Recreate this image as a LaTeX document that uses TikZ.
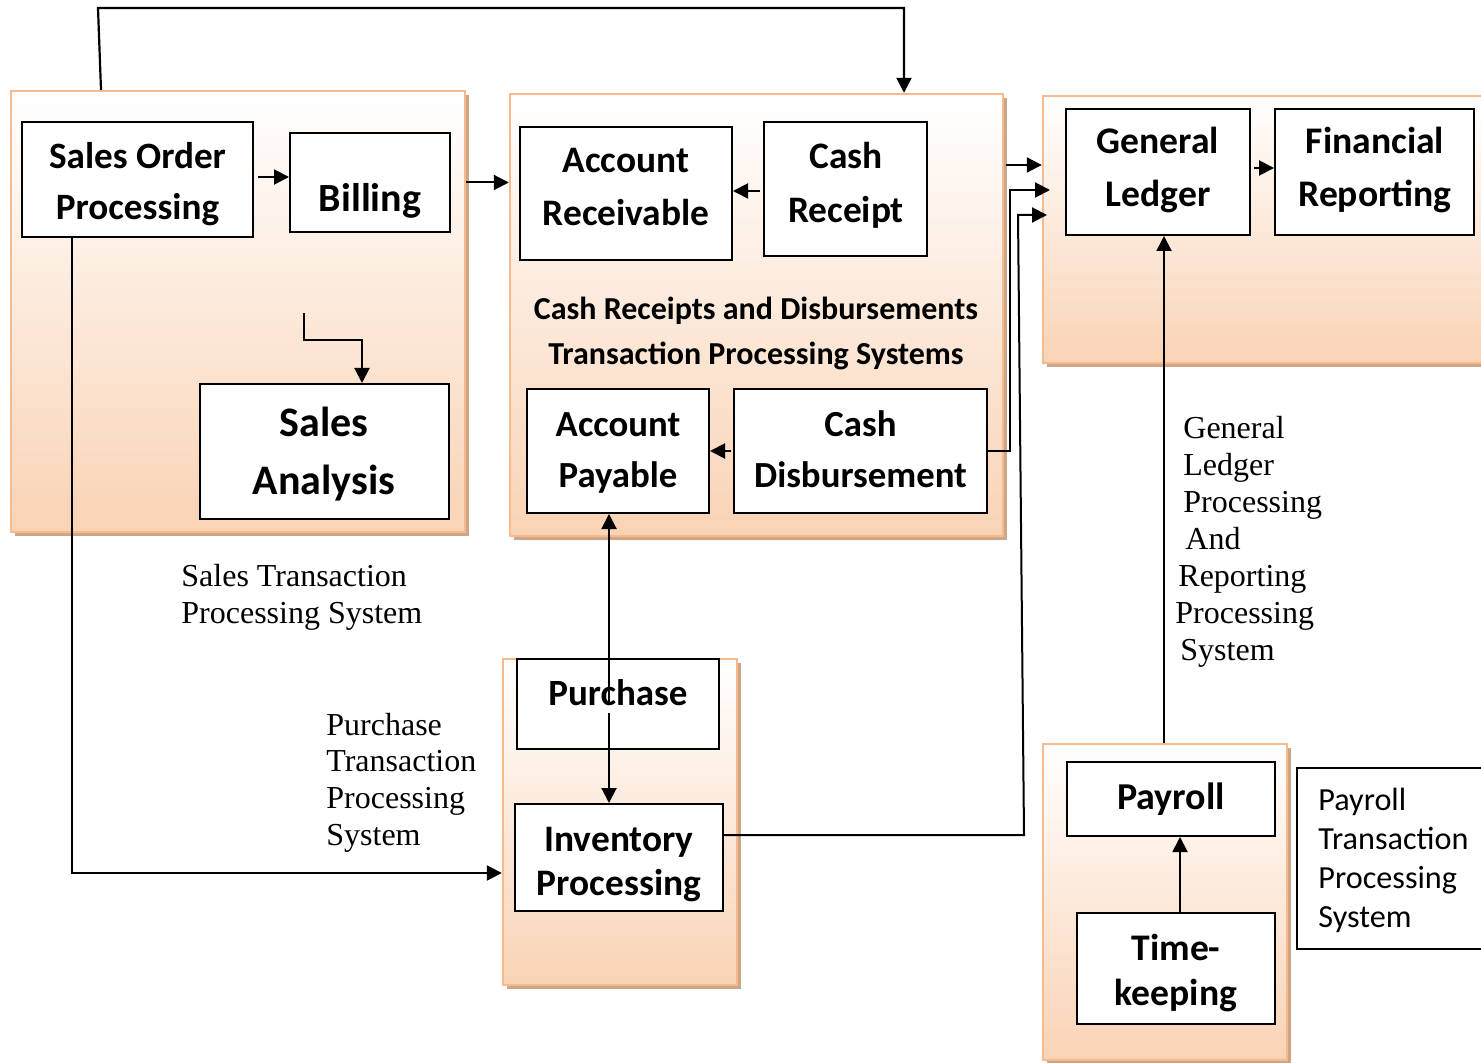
\documentclass[tikz,border=0pt]{standalone}
\usepackage{fontspec}
\setmainfont{Liberation Serif}
\newfontfamily\carl{Carlito}
\usetikzlibrary{arrows.meta,shadows,calc}
\definecolor{peach}{RGB}{249,211,181}
\definecolor{pborder}{RGB}{246,186,140}
\definecolor{pshadow}{RGB}{205,165,135}
\newcommand{\rbox}[6]{%
  \pgfmathsetmacro{\rbw}{(#5-#3)/2}%
  \pgfmathsetmacro{\rbh}{(#6-#4)/2}%
  \node[#1, minimum width=\rbw pt, minimum height=\rbh pt] (#2) at ({(#3+#5)/2},{(#4+#6)/2}) {};%
}
\newcommand{\mycent}[1]{\begin{tabular}[t]{@{}c@{}}#1\end{tabular}}
\newcommand{\myleft}[1]{\begin{tabular}[t]{@{}l@{}}#1\end{tabular}}
\begin{document}
\begin{tikzpicture}[x=0.5pt,y=-0.5pt,
  panel/.style={rectangle, inner sep=0, draw=pborder, line width=1.2pt, top color=white, bottom color=peach,
    drop shadow={shadow xshift=2pt, shadow yshift=-2pt, fill=pshadow, opacity=1}},
  box/.style={rectangle, inner sep=0, draw=black, line width=1pt, fill=white},
  conn/.style={draw=black, line width=1pt},
  arr/.style={conn, -{Triangle[length=7.5pt,width=7.5pt]}},
  btx/.style={inner sep=0, anchor=base},
  bfont/.style={font=\carl\bfseries\fontsize#1\selectfont},
  tlab/.style={inner sep=0, anchor=base west, font=\fontsize{16}{18.5}\selectfont}
]
\useasboundingbox (0,0) rectangle (1481,1063);

% panels
\rbox{panel}{psales}{11}{91}{465}{532}
\rbox{panel}{pcash}{510}{94}{1003}{536}
\rbox{panel}{pgl}{1043}{96}{1500}{363}
\rbox{panel}{ppur}{503}{659}{737}{985}
\rbox{panel}{ppay}{1043}{744}{1287}{1060}

% boxes
\rbox{box}{sop}{22}{122}{253}{237}
\rbox{box}{bill}{290}{133}{450}{232}
\rbox{box}{sa}{200}{384}{449}{519}
\rbox{box}{ar}{520}{127}{732}{260}
\rbox{box}{cr}{764}{122}{927}{256}
\rbox{box}{ap}{527}{389}{709}{513}
\rbox{box}{cd}{734}{389}{987}{513}
\rbox{box}{gl}{1066}{109}{1250}{235}
\rbox{box}{fr}{1275}{109}{1474}{235}
\rbox{box}{pur}{517}{659}{719}{749}
\rbox{box}{inv}{515}{804}{723}{911}
\rbox{box}{pay}{1067}{762}{1275}{836}
\rbox{box}{tk}{1077}{913}{1275}{1024}
\rbox{box}{leg}{1297}{768}{1500}{949}

% connectors
\coordinate (ta) at (98,8);
\coordinate (tb) at (904,8);
\coordinate (xa) at (101,0);
\draw[arr, line width=1.1pt] (psales.north -| xa) -- (ta) -- (tb) -- (tb |- pcash.north);

\coordinate (g0) at ([yshift=1.25pt]sop.east);
\draw[arr, shorten <=2pt] (g0) -- (g0 -| bill.west);
\draw[arr] (bill.east -| psales.east) -- (bill.east -| pcash.west);

\coordinate (s1) at (304,313);
\coordinate (s2) at (362,340);
\draw[arr] (s1) |- (s2) -- (s2 |- sa.north);

\coordinate (s3) at (72,873);
\draw[arr] (sop.south -| s3) -- (s3) -- (s3 -| ppur.west);

\coordinate (g2) at ([yshift=-1pt]cr.west);
\draw[arr, shorten <=1.5pt] (g2) -- (g2 -| ar.east);
\draw[arr, shorten <=1pt] (cd.west) -- (cd.west -| ap.east);

\coordinate (p1) at (609,705);
\coordinate (p2) at (609,713);
\draw[arr] (p1) -- (p1 |- ap.south);
\draw[arr] (p2) -- (p2 |- inv.north);

\coordinate (s4) at (1006,165);
\draw[arr] (s4) -- (s4 -| pgl.west);
\coordinate (s5) at (1010,190);
\coordinate (e5) at (1050,190);
\draw[arr] (cd.east) -| (s5) -- (e5);
\coordinate (s6) at (1024,835);
\coordinate (s7) at (1018,215);
\coordinate (e7) at (1047,215);
\draw[arr] (s6 -| inv.east) -- (s6) -- (s7) -- (e7);

\coordinate (xd) at (1164,0);
\draw[arr] (ppay.north -| xd) -- (gl.south -| xd);
\coordinate (xe) at (1180,0);
\draw[arr] (tk.north -| xe) -- (pay.south -| xe);
\coordinate (g1) at ([yshift=2pt]gl.east);
\draw[arr, shorten <=1.5pt] (g1) -- (g1 -| fr.west);

% box texts
\node[btx, bfont={{18.6}{25.5}}] (t-sop) at (137.5,169) {\mycent{Sales Order\\Processing}};
\node[btx, bfont={{20}{25}}] (t-bill) at (370,212) {Billing};
\node[btx, bfont={{21}{29}}] (t-sa) at (324,437) {\mycent{Sales\\Analysis}};
\node[btx, bfont={{18.7}{26.5}}] (t-ar) at (626,173) {\mycent{Account\\Receivable}};
\node[btx, bfont={{18.7}{27}}] (t-cr) at (846,169) {\mycent{Cash\\Receipt}};
\node[btx, bfont={{16}{22.5}}] (t-title) at (756,320) {\mycent{Cash Receipts and Disbursements\\Transaction Processing Systems}};
\node[btx, bfont={{18.4}{25.5}}] (t-ap) at (618,437) {\mycent{Account\\Payable}};
\node[btx, bfont={{18.4}{25.5}}] (t-cd) at (860.5,437) {\mycent{Cash\\Disbursement}};
\node[btx, bfont={{18.8}{26.5}}] (t-gl) at (1158,154) {\mycent{General\\Ledger}};
\node[btx, bfont={{18.8}{26.5}}] (t-fr) at (1375,154) {\mycent{Financial\\Reporting}};
\node[btx, bfont={{18.5}{25}}] (t-pur) at (618,705) {Purchase};
\node[btx, bfont={{18.7}{22}}] (t-inv) at (619,851) {\mycent{Inventory\\Processing}};
\node[btx, bfont={{19}{25}}] (t-pay) at (1171,809) {Payroll};
\node[btx, bfont={{18.8}{22.5}}] (t-tk) at (1176,960) {\mycent{Time-\\keeping}};
\node[inner sep=0, anchor=base west, font=\carl\fontsize{16.1}{19.5}\selectfont] (t-leg) at (1318,810)
  {\myleft{Payroll\\Transaction\\Processing\\System}};

% labels
\node[tlab] (l-sales) at (181,586) {\myleft{Sales Transaction\\Processing System}};
\node[tlab, font=\fontsize{16}{18.35}\selectfont] (l-pur) at (326,735) {\myleft{Purchase\\Transaction\\Processing\\System}};
\node[tlab] (l-gl) at (1175,438) {\myleft{\hspace*{4pt}General\\\hspace*{4pt}Ledger\\\hspace*{4pt}Processing\\\hspace*{5pt}And\\\hspace*{1.5pt}Reporting\\Processing\\\hspace*{2.5pt}System}};
\end{tikzpicture}
\end{document}
